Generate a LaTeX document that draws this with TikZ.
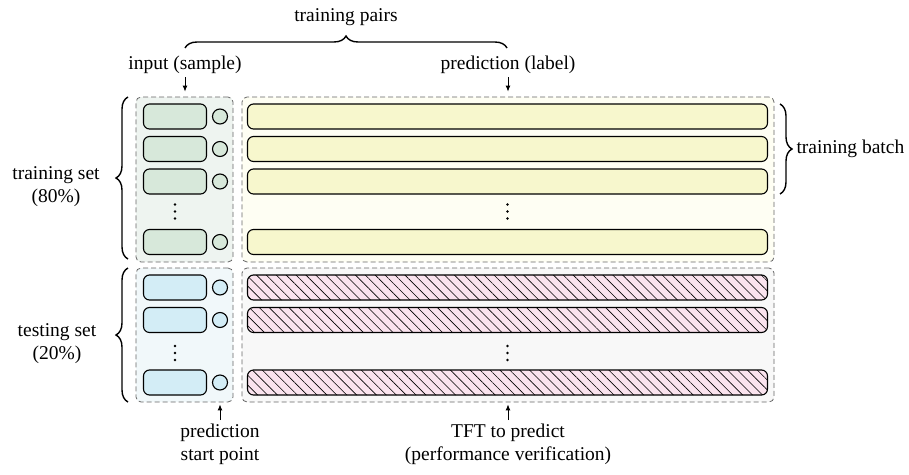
\documentclass[tikz,border=0pt]{standalone}
\usepackage{fontspec}
\setmainfont{Liberation Serif}
\usetikzlibrary{positioning,decorations.pathreplacing,patterns.meta,arrows.meta}

\definecolor{ingreen}{HTML}{D7E8DA}
\definecolor{inblue}{HTML}{D3EDF6}
\definecolor{outyellow}{HTML}{F7F7CD}
\definecolor{outpink}{HTML}{FAE3EE}
\definecolor{pgreen}{HTML}{EEF4F0}
\definecolor{pblue}{HTML}{F1F8FA}
\definecolor{pyellow}{HTML}{FEFEF3}
\definecolor{pgrey}{HTML}{F8F8F8}

\begin{document}
\begin{tikzpicture}[x=1pt,y=-1pt,
    every node/.style={font=\fontsize{19.5}{23}\selectfont},
    panel/.style={draw=black!60, dashed, dash pattern=on 5pt off 3pt, rounded corners=5pt, line width=0.8pt, inner sep=0pt},
    inbox/.style={draw, rounded corners=6pt, line width=1.1pt, minimum width=63pt, minimum height=25pt, inner sep=0pt},
    outbar/.style={draw, rounded corners=6pt, line width=1.1pt, minimum width=520pt, minimum height=25pt, inner sep=0pt},
    startpt/.style={draw, circle, line width=1.1pt, minimum size=15pt, inner sep=0pt},
    hatched/.style={fill=outpink, postaction={pattern={Lines[angle=-45, distance=7pt, line width=0.6pt]}}},
    vdot/.style={fill, circle, minimum size=2.8pt, inner sep=0pt},
    brc/.style={decorate, decoration={brace, amplitude=12pt}, line width=1.4pt},
    arr/.style={-{Latex[length=6pt, width=5pt]}, line width=0.9pt}
]
\useasboundingbox (0,0) rectangle (909,474);

% panels
\node[panel, fill=pgreen, minimum width=97pt, minimum height=165pt] (trin) at (184.5,179.5) {};
\node[panel, fill=pyellow, minimum width=532pt, minimum height=165pt] (trout) at (508,179.5) {};
\node[panel, fill=pblue, minimum width=97pt, minimum height=134pt] (tein) at (184.5,335) {};
\node[panel, fill=pgrey, minimum width=532pt, minimum height=134pt] (teout) at (508,335) {};

% training rows
\foreach \i/\y in {1/116.5, 2/149, 3/181.5, 4/242} {
    \node[inbox, fill=ingreen] (trx\i) at (175,\y) {};
    \node[startpt, fill=ingreen] (trc\i) at (220,\y) {};
    \node[outbar, fill=outyellow] (try\i) at (507.5,\y) {};
}
% testing rows
\foreach \i/\y in {1/287.5, 2/320, 3/382.5} {
    \node[inbox, fill=inblue] (tex\i) at (175,\y) {};
    \node[startpt, fill=inblue] (tec\i) at (220,\y) {};
    \node[outbar, hatched] (tey\i) at (507.5,\y) {};
}
% dots
\foreach \x in {175, 507.5} {
    \foreach \y in {204.5, 211.5, 218.5, 346, 353, 360}
        \node[vdot] at (\x,\y) {};
}

% labels
\node[align=center] (trset) at (56,187) {training set\\(80\%)};
\node[align=center] (teset) at (57,344) {testing set\\(20\%)};
\node[anchor=west] (batch) at (793,149) {training batch};
\node (pairs) at (346,17) {training pairs};
\node (inlab) at (185,65) {input (sample)};
\node (predlab) at (508,65) {prediction (label)};
\node[align=center, anchor=north] (startlab) at (220,420) {prediction\\start point};
\node[align=center, anchor=north] (tftlab) at (508,420) {TFT to predict\\(performance verification)};

% braces
\draw[brc] (128,259) -- (128,97);
\draw[brc] (128,402) -- (128,268);
\draw[brc] (780,104) -- (780,194);
\draw[brc] (185,48) -- (507,48);

% arrows
\draw[arr, shorten >=5pt] (inlab) -- (inlab |- trin.north);
\draw[arr, shorten >=5pt] (predlab) -- (predlab |- trout.north);
\draw[arr, shorten >=2pt] (startlab) -- (startlab |- tein.south);
\draw[arr, shorten >=2pt] (tftlab) -- (tftlab |- teout.south);
\end{tikzpicture}
\end{document}
